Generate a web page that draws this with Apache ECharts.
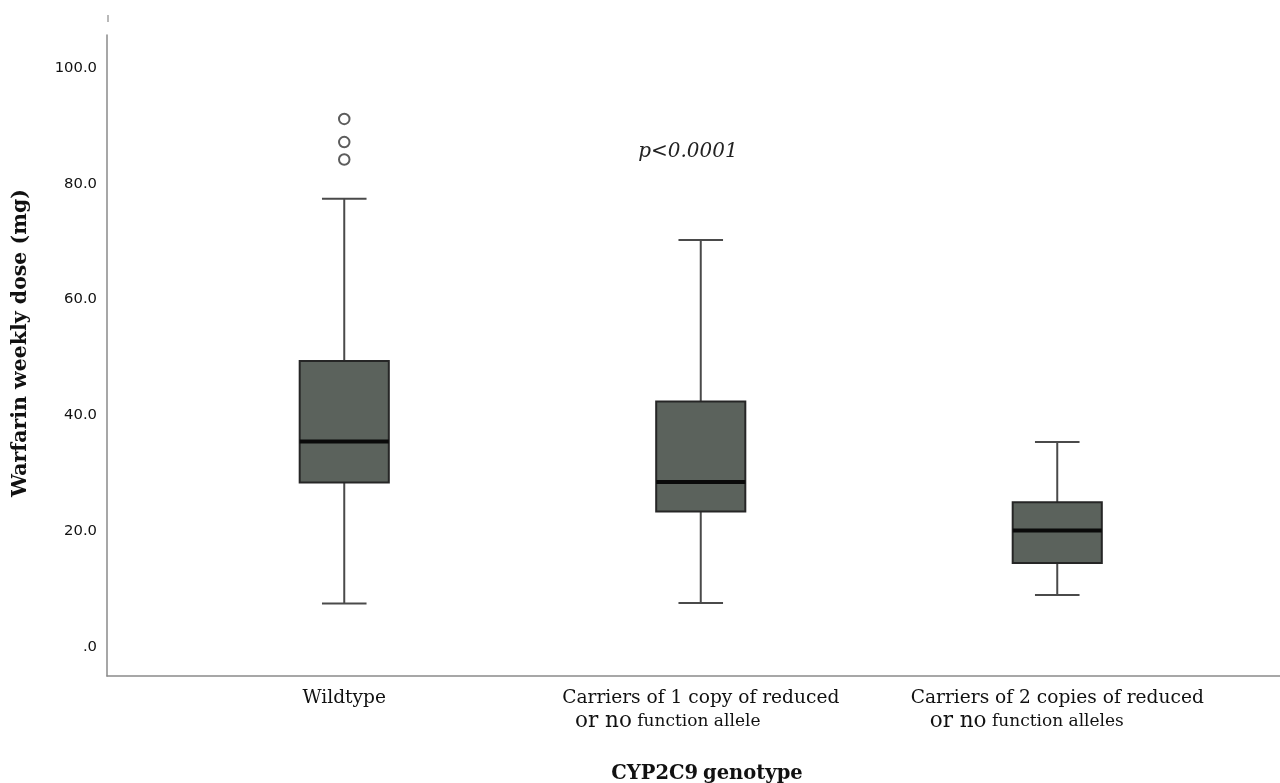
<!DOCTYPE html>
<html>
<head>
<meta charset="utf-8">
<script src="https://cdn.jsdelivr.net/npm/echarts@6/dist/echarts.min.js"></script>
<style>html,body{margin:0;padding:0;background:#fff}#chart{width:1280px;height:783px}</style>
</head>
<body>
<div id="chart"></div>
<script>
const categories = ['Wildtype', 'Carriers of 1 copy of reduced or no function allele', 'Carriers of 2 copies of reduced or no function alleles'];
const labelLine1 = ['Wildtype', 'Carriers of 1 copy of reduced', 'Carriers of 2 copies of reduced'];
const labelLine2Big = ['', 'or no', 'or no'];
const labelLine2Rest = ['', ' function allele', ' function alleles'];
const whiskerLow = [7.5, 7.6, 9.0];
const q1 = [28.4, 23.4, 14.5];
const median = [35.5, 28.5, 20.1];
const q3 = [49.4, 42.4, 25.0];
const whiskerHigh = [77.4, 70.3, 35.4];
const outlierGroup = [0, 0, 0];
const outlierValue = [91.2, 87.2, 84.2];
const yTicks = [0, 20, 40, 60, 80, 100];
const pValueText = 'p<0.0001';

const boxData = categories.map((c, i) => [i, whiskerLow[i], q1[i], median[i], q3[i], whiskerHigh[i]]);
const outlierData = outlierValue.map((v, i) => [outlierGroup[i], v]);

const chart = echarts.init(document.getElementById('chart'));
const option = {
  animation: false,
  backgroundColor: '#ffffff',
  title: {
    text: '{a|CYP2C9} {b|genotype}',
    left: 702, top: 759, textAlign: 'center',
    textStyle: {
      rich: {
        a: {fontFamily: 'DejaVu Serif', fontWeight: 'bold', fontSize: 19.5, color: '#111'},
        b: {fontFamily: 'DejaVu Serif', fontWeight: 'bold', fontSize: 19.5, color: '#111'}
      }
    }
  },
  grid: [
    {left: 107, right: 0, top: 35, bottom: 107},
    {left: 166, right: 44.5, top: 39.05, bottom: 136}
  ],
  xAxis: [
    {gridIndex: 0, type: 'value', min: 0, max: 1, axisLine: {show: true, lineStyle: {color: '#8a8a8a', width: 1.5}},
     axisTick: {show: false}, axisLabel: {show: false}, splitLine: {show: false}},
    {gridIndex: 1, type: 'category', data: categories, axisLine: {show: false}, axisTick: {show: false},
     splitLine: {show: false},
     axisLabel: {
       margin: 40, interval: 0,
       formatter: function (v, i) {
         if (!labelLine2Big[i]) return '{l1|' + labelLine1[i] + '}';
         return '{l1|' + labelLine1[i] + '}\n{big|' + labelLine2Big[i] + '}{l2|' + labelLine2Rest[i] + '}{pad' + i + '|}';
       },
       rich: {
         l1: {fontFamily: 'DejaVu Serif', fontSize: 18.6, color: '#111', lineHeight: 23},
         l2: {fontFamily: 'DejaVu Serif', fontSize: 17, color: '#111', lineHeight: 23},
         big: {fontFamily: 'DejaVu Serif', fontSize: 21.5, color: '#111', lineHeight: 23},
         pad1: {width: 66, lineHeight: 23},
         pad2: {width: 61, lineHeight: 23}
       }
     }}
  ],
  yAxis: [
    {gridIndex: 0, type: 'value', min: 0, max: 1, axisLine: {show: true, lineStyle: {color: '#8a8a8a', width: 1.5}},
     axisTick: {show: false}, axisLabel: {show: false}, splitLine: {show: false}},
    {gridIndex: 1, type: 'value', min: 0, max: 105, interval: 20, offset: 59,
     axisLine: {show: false}, axisTick: {show: false}, splitLine: {show: false},
     name: 'Warfarin weekly dose (mg)', nameLocation: 'middle', nameRotate: 90, nameGap: 76,
     nameTextStyle: {fontFamily: 'DejaVu Serif', fontWeight: 'bold', fontSize: 20.5, color: '#111'},
     axisLabel: {
       margin: 10, fontFamily: 'DejaVu Sans', fontSize: 14.8, color: '#111',
       formatter: function (v) {
         if (yTicks.indexOf(v) < 0) return '';
         return v === 0 ? '.0' : v.toFixed(1);
       }
     }}
  ],
  series: [
    {
      type: 'custom', xAxisIndex: 1, yAxisIndex: 1,
      data: boxData,
      encode: {x: 0, y: [1, 2, 3, 4, 5]},
      renderItem: function (params, api) {
        const i = api.value(0);
        const pLo = api.coord([i, api.value(1)]);
        const pQ1 = api.coord([i, api.value(2)]);
        const pMed = api.coord([i, api.value(3)]);
        const pQ3 = api.coord([i, api.value(4)]);
        const pHi = api.coord([i, api.value(5)]);
        const band = api.size([1, 0])[0];
        const bw = band * 0.25;
        const cw = bw * 0.5;
        const cx = pMed[0];
        const wStyle = {stroke: '#4a4a4a', lineWidth: 2, fill: null};
        return {
          type: 'group',
          children: [
            {type: 'line', shape: {x1: cx, y1: pHi[1], x2: cx, y2: pQ3[1]}, style: wStyle},
            {type: 'line', shape: {x1: cx, y1: pQ1[1], x2: cx, y2: pLo[1]}, style: wStyle},
            {type: 'line', shape: {x1: cx - cw / 2, y1: pHi[1], x2: cx + cw / 2, y2: pHi[1]}, style: wStyle},
            {type: 'line', shape: {x1: cx - cw / 2, y1: pLo[1], x2: cx + cw / 2, y2: pLo[1]}, style: wStyle},
            {type: 'rect', shape: {x: cx - bw / 2, y: pQ3[1], width: bw, height: pQ1[1] - pQ3[1]},
             style: {fill: '#5b625c', stroke: '#262626', lineWidth: 2}},
            {type: 'line', shape: {x1: cx - bw / 2, y1: pMed[1], x2: cx + bw / 2, y2: pMed[1]},
             style: {stroke: '#0a0a0a', lineWidth: 4}}
          ]
        };
      }
    },
    {
      type: 'scatter', xAxisIndex: 1, yAxisIndex: 1,
      data: outlierData,
      symbol: 'circle', symbolSize: 10.5,
      itemStyle: {color: '#ffffff', borderColor: '#333333', borderWidth: 2}
    }
  ]
};
chart.setOption(option);
chart.setOption({
  graphic: [
    {type: 'line', shape: {x1: 108, y1: 15, x2: 108, y2: 22}, style: {stroke: '#8a8a8a', lineWidth: 1.2}},
    {type: 'text', x: 688, y: 152, style: {text: pValueText, fontFamily: 'DejaVu Serif', fontStyle: 'italic', fontSize: 20, fill: '#222', align: 'center', verticalAlign: 'middle'}}
  ]
});
</script>
</body>
</html>
